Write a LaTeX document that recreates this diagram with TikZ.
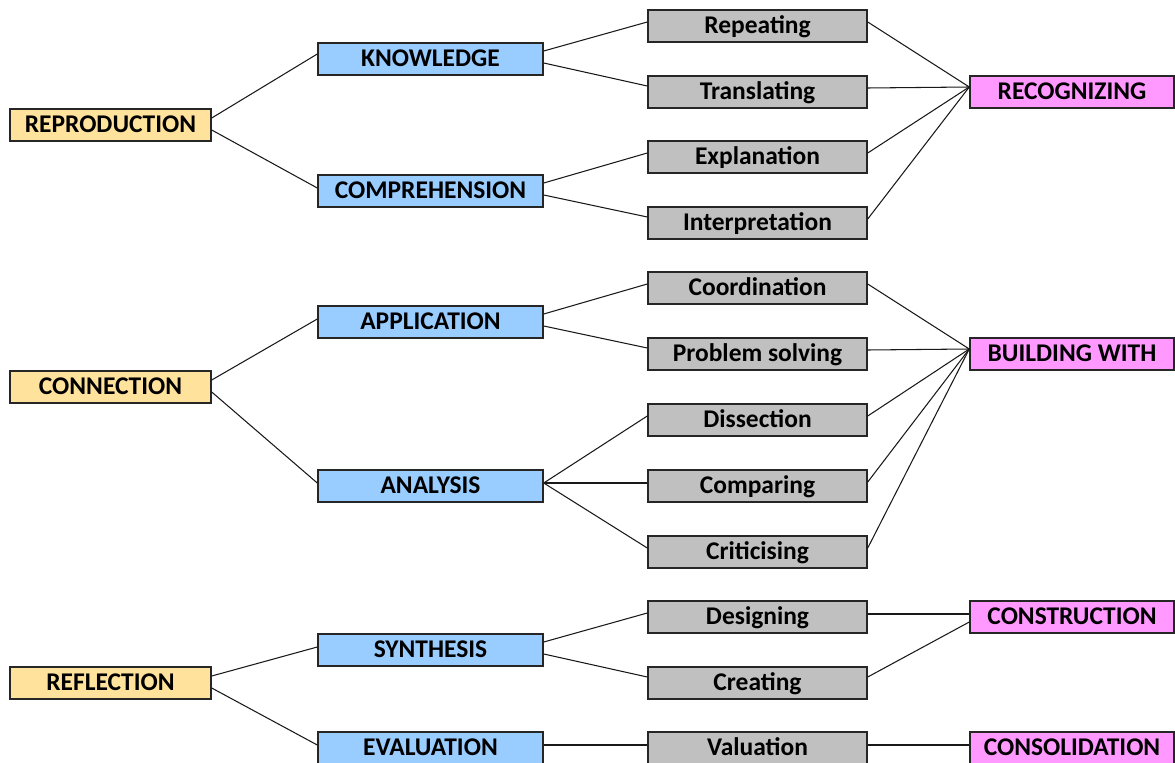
\documentclass[tikz,border=0pt]{standalone}
\usepackage{fontspec}
\setmainfont{Carlito}
\definecolor{cyellow}{RGB}{255,226,155}
\definecolor{cblue}{RGB}{153,204,255}
\definecolor{cgray}{RGB}{192,192,192}
\definecolor{cpink}{RGB}{255,153,255}
\begin{document}
\begin{tikzpicture}[x=0.02cm,y=-0.02cm,
  box/.style={draw=black!85, line width=0.85pt, minimum height=0.64cm, inner sep=0pt,
    text height=10pt, text depth=1.2pt, font=\bfseries\fontsize{14.5}{17}\selectfont},
  ybox/.style={box, fill=cyellow, minimum width=4.02cm},
  bbox/.style={box, fill=cblue, minimum width=4.5cm},
  gbox/.style={box, fill=cgray, minimum width=4.38cm},
  pbox/.style={box, fill=cpink, minimum width=4.08cm},
  conn/.style={draw=black!90, line width=0.6pt}]
\useasboundingbox (0,0) rectangle (1175,763);
% level 1
\node[ybox] (rep) at (110.5,125) {REPRODUCTION};
\node[ybox] (con) at (110.5,387) {CONNECTION};
\node[ybox] (ref) at (110.5,683) {REFLECTION};
% level 2
\node[bbox] (kno) at (430.5,59) {KNOWLEDGE};
\node[bbox] (com) at (430.5,191) {COMPREHENSION};
\node[bbox] (app) at (430.5,322) {APPLICATION};
\node[bbox] (ana) at (430.5,486) {ANALYSIS};
\node[bbox] (syn) at (430.5,650) {SYNTHESIS};
\node[bbox] (eva) at (430.5,748) {EVALUATION};
% level 3
\node[gbox] (g1) at (757.5,26) {Repeating};
\node[gbox] (g2) at (757.5,92) {Translating};
\node[gbox] (g3) at (757.5,157) {Explanation};
\node[gbox] (g4) at (757.5,223) {Interpretation};
\node[gbox] (g5) at (757.5,288) {Coordination};
\node[gbox] (g6) at (757.5,354) {Problem solving};
\node[gbox] (g7) at (757.5,420) {Dissection};
\node[gbox] (g8) at (757.5,486) {Comparing};
\node[gbox] (g9) at (757.5,552) {Criticising};
\node[gbox] (g10) at (757.5,617) {Designing};
\node[gbox] (g11) at (757.5,683) {Creating};
\node[gbox] (g12) at (757.5,748) {Valuation};
% level 4
\node[pbox] (p1) at (1072,92) {RECOGNIZING};
\node[pbox] (p2) at (1072,354) {BUILDING WITH};
\node[pbox] (p3) at (1072,617) {CONSTRUCTION};
\node[pbox] (p4) at (1072,748) {CONSOLIDATION};
% connectors level 1 -> 2
\draw[conn] ([yshift=0.14cm]rep.east) -- ([yshift=0.1cm]kno.west);
\draw[conn] ([yshift=-0.1cm]rep.east) -- ([yshift=0.06cm]com.west);
\draw[conn] ([yshift=0.14cm]con.east) -- ([yshift=0.06cm]app.west);
\draw[conn] ([yshift=-0.1cm]con.east) -- ([yshift=0.06cm]ana.west);
\draw[conn] ([yshift=0.14cm]ref.east) -- ([yshift=0.06cm]syn.west);
\draw[conn] ([yshift=-0.1cm]ref.east) -- ([yshift=0.06cm]eva.west);
% level 2 -> 3
\foreach \p/\a/\b in {kno/g1/g2, com/g3/g4, app/g5/g6, syn/g10/g11}{
  \draw[conn] ([yshift=0.16cm]\p.east) -- ([yshift=0.08cm]\a.west);
  \draw[conn] ([yshift=-0.08cm]\p.east) -- ([yshift=0.12cm]\b.west);
}
\draw[conn] ([yshift=0.06cm]ana.east) -- ([yshift=0.08cm]g7.west);
\draw[conn] ([yshift=0.06cm]ana.east) -- ([yshift=0.06cm]g8.west);
\draw[conn] ([yshift=0.06cm]ana.east) -- ([yshift=0.08cm]g9.west);
\draw[conn] ([yshift=0.06cm]eva.east) -- ([yshift=0.06cm]g12.west);
% level 3 -> 4
\coordinate (c1) at ([yshift=0.1cm]p1.west);
\coordinate (c2) at ([yshift=0.1cm]p2.west);
\coordinate (c3) at ([yshift=0.06cm]p3.west);
\foreach \g in {g1,g2,g3,g4}{ \draw[conn] ([yshift=0.08cm]\g.east) -- (c1); }
\foreach \g in {g5,g6,g7,g8,g9}{ \draw[conn] ([yshift=0.08cm]\g.east) -- (c2); }
\draw[conn] ([yshift=0.06cm]g10.east) -- (c3);
\draw[conn] ([yshift=0.12cm]g11.east) -- ([yshift=-0.1cm]p3.west);
\draw[conn] ([yshift=0.06cm]g12.east) -- ([yshift=0.06cm]p4.west);
\end{tikzpicture}
\end{document}
